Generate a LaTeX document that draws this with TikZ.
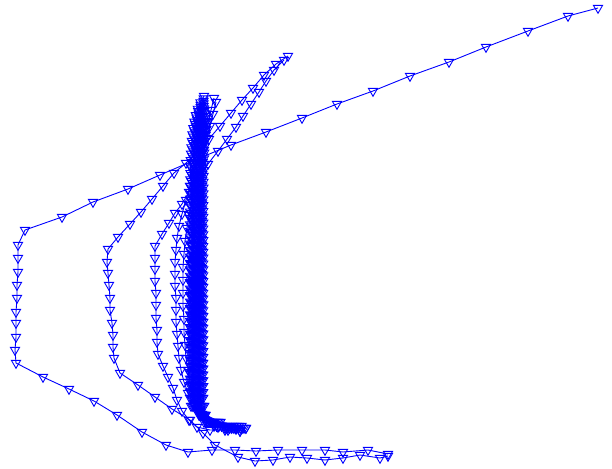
\documentclass[tikz,border=0pt]{standalone}
\usetikzlibrary{plotmarks}
\begin{document}
\begin{tikzpicture}[x=1pt,y=-1pt,
  traj/.style={color=blue,line width=.9pt,mark=triangle,mark size=5.3pt,
    mark options={rotate=180,line width=.9pt}}]
\useasboundingbox (0,0) rectangle (612,468);

\draw[traj] plot coordinates {(598,8) (568,16) (528,31) (486,47) (449,62) (410,76)
  (373,91) (337,104) (302,118) (266,132) (231,145) (195,160) (160,175) (128,189)
  (93,202) (62,217) (25,230) (18,245) (18,258) (18,272) (17,285) (17,298) (16,312)
  (16,323) (16,337) (15,350) (16,363) (43,377) (69,389) (94,401) (117,415) (142,432)
  (166,445) (188,452) (212,450) (235,450) (256,451) (278,450) (302,450) (325,450)
  (343,452) (368,450) (388,454)};

\draw[traj] plot coordinates {(288,56) (276,64) (264,75) (253,88) (242,100) (231,113)
  (220,126) (209,139) (198,151) (186,163) (174,173) (163,186) (152,199) (141,212)
  (130,224) (118,237) (108,249) (107,262) (108,273) (109,285) (110,298) (110,310)
  (112,323) (113,335) (113,347) (114,358) (120,373) (138,385) (155,397) (172,409)
  (190,420) (203,433) (215,445) (238,457) (255,461) (273,460) (290,457) (307,458)
  (325,460) (343,458) (360,455) (380,458) (388,456)};

\draw[traj] plot coordinates {(284,60) (274,70) (266,81) (259,92) (251,104) (243,116)
  (236,127) (227,139) (218,151) (208,164) (198,178) (189,192) (182,204) (175,213)
  (169,223) (162,234) (155,246) (155,258) (155,269) (155,281) (156,293) (156,305)
  (156,318) (157,330) (157,342) (158,354) (163,366) (168,377) (173,388) (177,400)
  (182,411) (189,420) (197,427) (210,430) (225,430) (240,431)};

\draw[traj] plot coordinates {(214,98) (211,110) (208,122) (205,134) (202,146)
  (198,158) (194,172) (190,186) (186,200) (182,214) (179,226) (177,238) (176,250)
  (175,262) (175,274) (175,286) (176,298) (176,310) (176,322) (177,334) (178,346)
  (179,358) (181,370) (184,382) (188,393) (193,403) (199,412) (205,420) (214,425)
  (225,428) (236,429) (246,428)};

\draw[traj] plot coordinates {(216,102) (213,114) (210,126) (207,138) (204,150)
  (201,163) (198,176) (195,189) (192,202) (189,215) (187,228) (185,241) (184,254)
  (183,267) (183,280) (183,293) (183,306) (184,319) (184,332) (185,345) (186,358)
  (188,370) (190,382) (193,393) (197,404) (202,414) (208,422) (218,427) (228,430)
  (240,431)};

\foreach \j in {0,...,11}{
  \pgfmathsetmacro{\c}{190+1.2*\j}
  \pgfmathsetmacro{\ys}{96+2.5*\j}
  \draw[traj] plot[domain=\ys:398,samples=48] ({\c+14*exp(-(\x-96)/22)},{\x})
    -- plot coordinates {(\c+1,406) (199+.6*\j,415) (204+1.5*\j,422) (214+2.5*\j,426) (226+1.8*\j,428)};
}
\end{tikzpicture}
\end{document}
